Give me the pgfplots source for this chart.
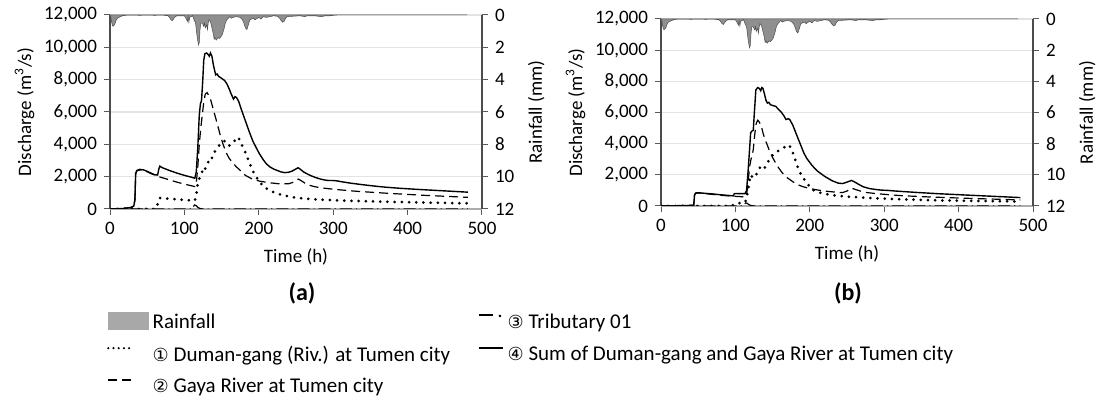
\documentclass[border=0pt]{standalone}
\usepackage{fontspec}
\setmainfont{Carlito}
\newfontfamily\dv{DejaVu Sans}
\usepackage{pgfplots}
\pgfplotsset{compat=1.18}

\pgfplotstableread{
t r
0 0
1 0.1
2 0.4
3 0.6
4 0.7
5 0.65
6 0.6
7 0.5
8 0.35
10 0.2
12 0.15
14 0.1
17 0.05
20 0.02
30 0
40 0.02
50 0
60 0.02
70 0
78 0.05
80 0.15
82 0.3
84 0.35
86 0.2
88 0.1
90 0.05
95 0.05
100 0.05
102 0.2
104 0.4
105 0.1
106 0.45
107 0.15
109 0.1
111 0.05
113 0.3
115 0.5
116 0.9
117 1.3
118 1.6
119 1.85
120 1.7
121 0.9
122 0.5
124 0.5
126 0.7
127 0.5
128 0.8
130 0.6
131 0.9
132 0.5
133 0.3
135 0.4
137 0.8
139 1.2
140 1.5
141 1.4
142 1.5
143 1.55
145 1.4
147 1.45
149 1.35
151 1.2
153 0.9
155 0.5
157 0.3
159 0.2
161 0.1
163 0.2
165 0.15
170 0.1
175 0.15
178 0.3
180 0.5
182 0.8
184 0.9
186 0.6
188 0.3
190 0.25
193 0.2
195 0.3
198 0.2
200 0.15
203 0.25
206 0.1
210 0.15
215 0.1
220 0.05
225 0.08
228 0.2
230 0.35
232 0.45
234 0.4
236 0.2
238 0.1
245 0.08
255 0.05
262 0.1
265 0.05
275 0.05
280 0.08
285 0.1
288 0.06
295 0.05
300 0.02
305 0
480 0
}\rain

\definecolor{rainfill}{gray}{0.56}
\definecolor{rainleg}{gray}{0.66}

\pgfplotsset{
  base/.style={scale only axis, width=186pt, xmin=0, xmax=500,
    /pgf/number format/assume math mode=true,
    tick align=outside, major tick length=3pt,
    tick style={gray!70!black, line width=0.5pt}},
  mainax/.style={base, axis x line*=bottom, axis y line*=left,
    ymin=0, ymax=12000, ytick={0,2000,...,12000}, xtick={0,100,...,500},
    ymajorgrids, grid style={gray!22, line width=0.6pt},
    scaled y ticks=false,
    /pgf/number format/1000 sep={,},
    x axis line style={gray!65, line width=0.6pt},
    y axis line style={gray!60!black, line width=0.6pt},
    xlabel={Time (h)}, ylabel={Discharge (m\textsuperscript{3}/s)},
    ylabel style={yshift=-2pt}},
  secax/.style={base, axis y line*=right, axis x line=none,
    ymin=0, ymax=12, y dir=reverse, ytick={0,2,...,12},
    y axis line style={gray!60!black, line width=0.6pt},
    ylabel={Rainfall (mm)}},
  sumst/.style={black, line width=0.7pt},
  gayast/.style={black, line width=0.6pt, dash pattern=on 4.5pt off 2.5pt},
  dumst/.style={black, line width=1.5pt, line cap=round, dash pattern=on 0pt off 3.6pt},
  tribst/.style={black, line width=0.6pt, dash pattern=on 6pt off 2pt on 0.6pt off 2pt},
  rainst/.style={fill=rainfill, draw=gray!60!black, line width=0.25pt},
}

\begin{document}
\begin{tikzpicture}[font=\fontsize{9.5}{11.4}\selectfont]
\path[use as bounding box] (0,0) rectangle (551.5pt,205.5pt);

% ---------- (a) ----------
\begin{axis}[mainax, height=97pt, at={(55pt,101pt)}, anchor=south west]
\addplot[tribst] coordinates {(0,0)(110,0)(112,150)(114,250)(116,200)(118,100)(121,30)(125,0)(481,0)};
\addplot[dumst] coordinates {(0,0)(60,0)(63,100)(65,500)(67,680)(75,650)(90,600)(105,540)(114,510)(116,900)(118,1600)(121,2000)(123,2200)(125,2500)(127,2400)(129,2600)(132,2900)(135,3200)(137,3150)(140,3500)(143,3700)(146,3900)(150,4100)(154,4200)(157,4000)(160,3900)(163,4050)(166,4150)(169,4300)(172,4450)(175,4200)(178,3900)(182,3500)(187,2900)(192,2350)(197,1950)(201,1650)(208,1350)(215,1130)(225,950)(234,830)(245,740)(258,660)(275,600)(300,540)(330,500)(370,450)(420,400)(481,350)};
\addplot[gayast] coordinates {(0,0)(28,80)(32,150)(33.5,550)(34.5,2150)(36,2350)(40,2420)(45,2390)(50,2300)(55,2190)(60,2100)(64,2040)(67,1980)(70,1940)(80,1800)(90,1660)(100,1540)(110,1430)(114,1390)(116,1600)(118,2600)(120,4000)(122,5000)(124,5800)(126,6600)(128,7100)(130.5,7200)(133,7000)(135,6800)(138,6300)(141,5800)(144,5300)(148,4600)(152,4000)(156,3500)(160,3150)(165,2850)(170,2600)(176,2350)(182,2080)(190,1880)(201,1720)(215,1620)(229,1550)(240,1560)(246,1650)(250,1780)(253,1850)(256,1780)(262,1600)(267,1480)(275,1380)(285,1300)(295,1250)(310,1180)(330,1100)(370,980)(420,850)(481,720)};
\addplot[sumst] coordinates {(0,0)(10,10)(20,40)(28,100)(32,180)(33.5,600)(34.5,2200)(36,2380)(40,2450)(45,2420)(50,2330)(55,2220)(60,2120)(64,2100)(65.5,2450)(67,2650)(70,2560)(80,2380)(90,2220)(100,2080)(110,1960)(114,1900)(116,2300)(118,3800)(120,5800)(121.5,6500)(123,6700)(124.5,7800)(126,9200)(127.5,9600)(130,9650)(132,9550)(133.5,9450)(135,9650)(137,9450)(139,8900)(142,8300)(144,8350)(146,8200)(148,8150)(151,8050)(154,7950)(157,7750)(160,7450)(163,7100)(166,6800)(168,6950)(170,6900)(173,6650)(177,6100)(182,5450)(187,4800)(192,4200)(197,3750)(201,3400)(206,3050)(210,2800)(215,2600)(220,2470)(225,2380)(230,2290)(235,2250)(240,2270)(245,2350)(250,2480)(253,2550)(256,2450)(260,2300)(265,2170)(270,2060)(276,1950)(283,1850)(290,1780)(295,1760)(300,1760)(305,1740)(312,1680)(323,1600)(340,1500)(355,1420)(370,1350)(390,1280)(418,1200)(450,1120)(481,1040)};
\end{axis}
\begin{axis}[secax, height=97pt, at={(55pt,101pt)}, anchor=south west,
  legend columns=2, legend cell align=left,
  legend style={draw=none, fill=none, at={(-0.025,-0.5)}, anchor=north west,
    row sep=3pt, /tikz/column 2/.style={column sep=12pt},
    font=\fontsize{10.5}{12.6}\selectfont},
  legend image code/.code={\draw[#1] (0pt,3.5pt) -- (12pt,3.5pt);}]
\addplot[rainst, forget plot] table[x=t, y=r] {\rain} \closedcycle;
\addlegendimage{legend image code/.code={\fill[rainleg] (0pt,-3pt) rectangle (20pt,5.5pt);}}
\addlegendentry{Rainfall}
\addlegendimage{legend image code/.code={\draw[black, line width=0.7pt] (0pt,4pt) -- (7pt,4pt); \fill[black] (10.5pt,3.6pt) circle (0.45pt);}}
\addlegendentry{{\dv\fontsize{9}{10}\selectfont ③} Tributary 01}
\addlegendimage{black, line width=1.2pt, line cap=round, dash pattern=on 0pt off 2.6pt}
\addlegendentry{{\dv\fontsize{9}{10}\selectfont ①} Duman-gang (Riv.) at Tumen city}
\addlegendimage{sumst}
\addlegendentry{{\dv\fontsize{9}{10}\selectfont ④} Sum of Duman-gang and Gaya River at Tumen city}
\addlegendimage{gayast}
\addlegendentry{{\dv\fontsize{9}{10}\selectfont ②} Gaya River at Tumen city}
\end{axis}

% ---------- (b) ----------
\begin{axis}[mainax, height=93.5pt, at={(330.5pt,102.5pt)}, anchor=south west]
\addplot[tribst] coordinates {(0,0)(110,0)(112,120)(114,200)(116,170)(118,90)(121,30)(125,0)(483,0)};
\addplot[dumst] coordinates {(0,0)(95,0)(98,100)(100,150)(105,180)(110,200)(113,220)(115,500)(117,1000)(119,1600)(120.5,2000)(122,1900)(125,1800)(128,2000)(131,2300)(134,2550)(136,2500)(139,2400)(142,2700)(146,3000)(150,3250)(154,3420)(158,3550)(163,3680)(167,3800)(170,3880)(172,3920)(175,3700)(178,3300)(181,2900)(184,2450)(188,2050)(192,1750)(197,1400)(202,1150)(206,980)(215,830)(230,690)(250,600)(277,520)(310,450)(372,360)(430,320)(483,290)};
\addplot[gayast] coordinates {(0,0)(44,50)(45,680)(46.5,820)(50,840)(60,790)(70,740)(80,690)(90,650)(100,620)(113,580)(115,700)(117,1500)(119,2500)(121,3000)(124,3600)(126,4600)(128,5300)(130,5500)(132,5400)(135,5100)(137,4700)(139.5,4300)(143,3900)(146,3500)(149,3200)(153,2850)(158,2450)(163,2130)(170,1800)(176,1600)(182,1400)(190,1250)(200,1120)(210,1030)(220,960)(232,900)(244,860)(250,960)(256,1150)(262,1050)(270,930)(277,860)(290,790)(310,710)(324,660)(360,580)(420,480)(483,390)};
\addplot[sumst] coordinates {(0,0)(20,10)(40,30)(44,60)(45,700)(46.5,830)(50,850)(60,810)(70,770)(80,720)(90,680)(97,650)(98.5,780)(100,800)(113,790)(115,1000)(117,2200)(119,3600)(120.5,4700)(122,4800)(124,4850)(125.5,6000)(127.5,7450)(130,7600)(132,7550)(134,7400)(135.5,7600)(137,7550)(139,7200)(141,6800)(143,6600)(145,6650)(147,6500)(150,6450)(154,6400)(158,6200)(162,6000)(165,5800)(168,5550)(171,5600)(173,5550)(177,5200)(182,4600)(187,4000)(192,3400)(196,3050)(203,2600)(210,2250)(220,1900)(230,1620)(238,1470)(244,1440)(250,1530)(256,1640)(260,1550)(266,1380)(272,1230)(280,1120)(290,1050)(296,1020)(305,1000)(315,960)(340,880)(372,790)(420,680)(483,540)};
\end{axis}
\begin{axis}[secax, height=93.5pt, at={(330.5pt,102.5pt)}, anchor=south west]
\addplot[rainst] table[x=t, y=r] {\rain} \closedcycle;
\end{axis}

\node[font=\bfseries\fontsize{12}{14}\selectfont] at (151pt,59pt) {(a)};
\node[font=\bfseries\fontsize{12}{14}\selectfont] at (424pt,59pt) {(b)};
\end{tikzpicture}
\end{document}
